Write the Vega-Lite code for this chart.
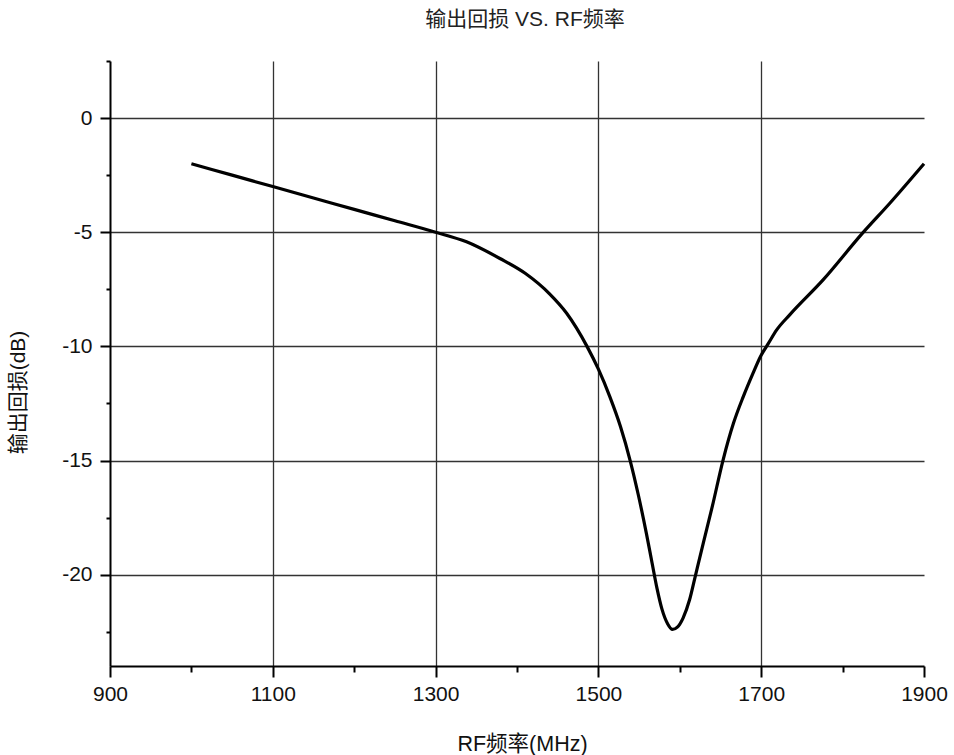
{
  "$schema": "https://vega.github.io/schema/vega-lite/v6.json",
  "width": 814,
  "height": 605,
  "autosize": "none",
  "padding": {"left": 110, "top": 61, "right": 30, "bottom": 89},
  "background": "white",
  "title": {
    "text": "输出回损 VS. RF频率",
    "font": "Liberation Sans, Noto Sans CJK SC",
    "fontSize": 21,
    "fontWeight": "normal",
    "color": "#222222",
    "anchor": "middle",
    "frame": "group",
    "baseline": "bottom",
    "offset": 9,
    "dx": 8
  },
  "config": {
    "view": {"stroke": null},
    "axis": {
      "labelFont": "Liberation Sans",
      "titleFont": "Liberation Sans, Noto Sans CJK SC",
      "labelColor": "#111111",
      "titleColor": "#111111",
      "titleFontWeight": "normal",
      "tickColor": "black",
      "domainColor": "black",
      "labelFlush": false,
      "labelOverlap": false
    }
  },
  "data": {
    "values": [
      {"freq": 1000, "rl": -2.0},
      {"freq": 1050, "rl": -2.5},
      {"freq": 1100, "rl": -3.0},
      {"freq": 1150, "rl": -3.5},
      {"freq": 1200, "rl": -4.0},
      {"freq": 1250, "rl": -4.5},
      {"freq": 1300, "rl": -5.0},
      {"freq": 1338, "rl": -5.42},
      {"freq": 1379, "rl": -6.15},
      {"freq": 1410, "rl": -6.8},
      {"freq": 1440, "rl": -7.7},
      {"freq": 1461, "rl": -8.55},
      {"freq": 1486, "rl": -10.0},
      {"freq": 1500, "rl": -11.0},
      {"freq": 1514, "rl": -12.2},
      {"freq": 1527, "rl": -13.5},
      {"freq": 1539, "rl": -15.0},
      {"freq": 1549, "rl": -16.5},
      {"freq": 1559, "rl": -18.2},
      {"freq": 1566, "rl": -19.5},
      {"freq": 1572, "rl": -20.6},
      {"freq": 1578, "rl": -21.5},
      {"freq": 1585, "rl": -22.15},
      {"freq": 1591, "rl": -22.4},
      {"freq": 1597, "rl": -22.3},
      {"freq": 1604, "rl": -21.9},
      {"freq": 1612, "rl": -21.1},
      {"freq": 1619, "rl": -20.07},
      {"freq": 1629, "rl": -18.6},
      {"freq": 1640, "rl": -17.0},
      {"freq": 1653, "rl": -15.0},
      {"freq": 1666, "rl": -13.36},
      {"freq": 1678, "rl": -12.2},
      {"freq": 1690, "rl": -11.17},
      {"freq": 1699, "rl": -10.45},
      {"freq": 1709, "rl": -9.86},
      {"freq": 1719, "rl": -9.28},
      {"freq": 1735, "rl": -8.62},
      {"freq": 1776, "rl": -7.09},
      {"freq": 1825, "rl": -5.02},
      {"freq": 1858, "rl": -3.73},
      {"freq": 1900, "rl": -2.0}
    ]
  },
  "layer": [
    {
      "mark": {"type": "line", "color": "black", "strokeWidth": 3.2, "interpolate": "monotone"},
      "encoding": {
        "x": {
          "field": "freq", "type": "quantitative",
          "scale": {"domain": [900, 1900], "nice": false, "zero": false},
          "axis": {
            "orient": "bottom",
            "values": [900, 1100, 1300, 1500, 1700, 1900],
            "labelExpr": "'' + datum.value",
            "grid": false,
            "domain": true, "domainWidth": 2,
            "ticks": true, "tickSize": 11, "tickWidth": 2,
            "labelFontSize": 21, "labelPadding": 6,
            "title": "RF频率(MHz)", "titleFontSize": 21.5,
            "titleX": 412, "titleY": 78, "titleBaseline": "middle", "titleAlign": "center"
          }
        },
        "y": {
          "field": "rl", "type": "quantitative",
          "scale": {"domain": [-24, 2.5], "nice": false, "zero": false},
          "axis": {
            "orient": "left",
            "values": [0, -5, -10, -15, -20],
            "labelExpr": "'' + datum.value",
            "grid": true, "gridColor": "#333333", "gridWidth": 1.3,
            "domain": true, "domainWidth": 2,
            "ticks": true, "tickSize": 10, "tickWidth": 2,
            "labelFontSize": 21, "labelPadding": 8,
            "title": "输出回损(dB)", "titleFontSize": 21,
            "titleAngle": -90, "titleX": -92, "titleY": 331,
            "titleBaseline": "middle", "titleAlign": "center"
          }
        }
      }
    },
    {
      "mark": {"type": "line", "opacity": 0},
      "encoding": {
        "x": {
          "field": "freq", "type": "quantitative",
          "axis": {
            "orient": "bottom",
            "values": [1000, 1200, 1400, 1600, 1800],
            "grid": false, "domain": false, "labels": false, "title": null,
            "ticks": true, "tickSize": 6, "tickWidth": 2
          }
        },
        "y": {
          "field": "rl", "type": "quantitative",
          "axis": {
            "orient": "left",
            "values": [2.5, -2.5, -7.5, -12.5, -17.5, -22.5],
            "grid": false, "domain": false, "labels": false, "title": null,
            "ticks": true, "tickSize": 4, "tickWidth": 2
          }
        }
      }
    },
    {
      "mark": {"type": "line", "opacity": 0},
      "encoding": {
        "x": {
          "field": "freq", "type": "quantitative",
          "axis": {
            "orient": "bottom",
            "values": [1100, 1300, 1500, 1700],
            "grid": true, "gridColor": "#333333", "gridWidth": 1.3,
            "domain": false, "labels": false, "ticks": false, "title": null
          }
        },
        "y": {"field": "rl", "type": "quantitative", "axis": null}
      }
    }
  ],
  "resolve": {"axis": {"x": "independent", "y": "independent"}}
}
